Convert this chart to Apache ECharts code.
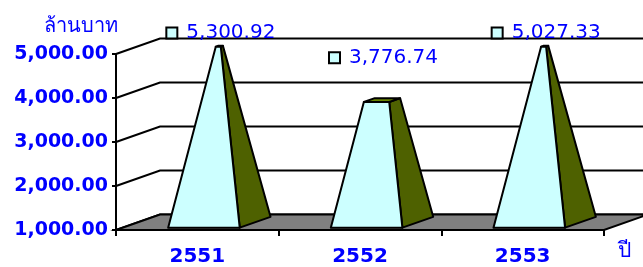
<!DOCTYPE html>
<html>
<head>
<meta charset="utf-8">
<script src="https://cdn.jsdelivr.net/npm/echarts@6/dist/echarts.min.js"></script>
<style>
	html, body { margin: 0; padding: 0; background: #fff; }
	#chart_container { width: 643px; height: 267px; }
</style>
</head>
<body>
<div id="chart_container"></div>
<script>
const years = ["2551", "2552", "2553"]
const amounts = [5300.92, 3776.74, 5027.33]
const yTicks = [1000, 2000, 3000, 4000, 5000]

const yMin = 1000
const yMax = 5000
// oblique depth offset of the floor / back wall
const DX = 44
const DY = -15.5
const blue = "#0000FF"
const peak = Math.max(...amounts)

function fmt(v) {
	return v.toLocaleString("en-US", { minimumFractionDigits: 2, maximumFractionDigits: 2 })
}

function project(api, cat, x, v, d) {
	const y = api.coord([cat, v])[1]
	return [x + d * DX, y + d * DY]
}

function renderWall(params, api) {
	const cs = params.coordSys
	const v = api.value(0)
	const y = api.coord([0, v])[1]
	return {
		type: "polyline",
		shape: { points: [[cs.x, y], [cs.x + DX, y + DY], [cs.x + cs.width + DX + 10, y + DY]] },
		style: { stroke: "#000", lineWidth: 2, fill: null },
	}
}

function renderFloor(params, api) {
	const cs = params.coordSys
	const y = api.coord([0, yMin])[1]
	const l = cs.x
	const r = cs.x + cs.width
	return {
		type: "polygon",
		shape: { points: [[l, y], [r, y], [r + DX, y + DY], [l + DX, y + DY]] },
		style: { fill: "#808080", stroke: "#000", lineWidth: 2 },
	}
}

function renderPyramid(params, api) {
	const cat = api.value(0)
	const val = api.value(1)
	const cx = api.coord([cat, val])[0]
	const w = api.size([1, 0])[0] * 0.44
	const d0 = 0.15
	const d1 = 0.85
	const top = Math.min(val, yMax)
	const s = 1 - (top - yMin) / (peak - yMin)
	const hw = w / 2
	const tw = hw * s
	const td0 = 0.5 - (0.5 - d0) * s
	const td1 = 0.5 + (d1 - 0.5) * s
	const bFL = project(api, cat, cx - hw, yMin, d0)
	const bFR = project(api, cat, cx + hw, yMin, d0)
	const bBR = project(api, cat, cx + hw, yMin, d1)
	const tFL = project(api, cat, cx - tw, top, td0)
	const tFR = project(api, cat, cx + tw, top, td0)
	const tBR = project(api, cat, cx + tw, top, td1)
	const tBL = project(api, cat, cx - tw, top, td1)
	const line = { stroke: "#000", lineWidth: 2, lineJoin: "round" }

	const ax = cx + 0.5 * DX
	const gridTop = api.coord([cat, yMax])[1]
	const ly = Math.max(api.coord([cat, val])[1] - 50, gridTop - 21)
	const left = ax - 53

	return {
		type: "group",
		children: [
			{ type: "polygon", shape: { points: [bFR, bBR, tBR, tFR] }, style: Object.assign({ fill: "#4E6100" }, line) },
			{ type: "polygon", shape: { points: [tFL, tFR, tBR, tBL] }, style: Object.assign({ fill: "#688500" }, line) },
			{ type: "polygon", shape: { points: [bFL, bFR, tFR, tFL] }, style: Object.assign({ fill: "#CCFFFF" }, line) },
			{ type: "rect", shape: { x: left, y: ly - 5.5, width: 11, height: 11 }, style: { fill: "#CCFFFF", stroke: "#000", lineWidth: 2 } },
			{
				type: "text",
				style: {
					text: fmt(val),
					x: left + 20,
					y: ly,
					align: "left",
					verticalAlign: "middle",
					fill: blue,
					font: "20px 'DejaVu Sans'",
				},
			},
		],
	}
}

const chart = echarts.init(document.getElementById("chart_container"))
chart.setOption({
	animation: false,
	grid: { left: 116, right: 39, top: 54, bottom: 37 },
	xAxis: {
		type: "category",
		data: years,
		axisLine: { lineStyle: { color: "#000", width: 2 } },
		axisTick: { show: true, length: 6, lineStyle: { color: "#000", width: 2 } },
		axisLabel: { color: blue, fontWeight: "bold", fontSize: 20, fontFamily: "DejaVu Sans", margin: 17 },
		name: "ปี",
		nameLocation: "end",
		nameGap: 14,
		nameTextStyle: { color: blue, fontSize: 21, verticalAlign: "top", padding: [11, 0, 0, 0] },
	},
	yAxis: {
		type: "value",
		min: yMin,
		max: yMax,
		interval: 1000,
		axisLine: { show: true, lineStyle: { color: "#000", width: 2 } },
		axisTick: { show: true, length: 4, lineStyle: { color: "#000", width: 2 } },
		splitLine: { show: false },
		axisLabel: { color: blue, fontWeight: "bold", fontSize: 19, fontFamily: "DejaVu Sans", margin: 8, formatter: fmt },
		name: "ล้านบาท",
		nameLocation: "end",
		nameGap: 28,
		nameTextStyle: { color: blue, fontSize: 20, align: "right", verticalAlign: "middle", padding: [0, -2, 0, 0] },
	},
	series: [
		{ type: "custom", clip: false, z: 1, data: yTicks.map((v) => [v]), renderItem: renderWall },
		{ type: "custom", clip: false, z: 2, data: [[0]], renderItem: renderFloor },
		{ type: "custom", clip: false, z: 3, data: years.map((y, i) => [i, amounts[i]]), renderItem: renderPyramid },
	],
})
</script>
</body>
</html>
